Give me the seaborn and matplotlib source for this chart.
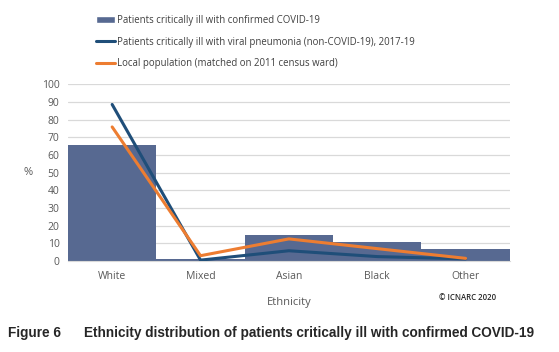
import pandas as pd
import matplotlib
matplotlib.use('Agg')
import matplotlib.pyplot as plt
import seaborn as sns
from matplotlib.patches import Patch
from matplotlib.lines import Line2D

# Data
ethnicity = ['White', 'Mixed', 'Asian', 'Black', 'Other']
covid = [65.5, 1.2, 14.8, 11.0, 6.7]
pneumonia = [88.5, 0.5, 5.8, 2.5, 1.2]
local_pop = [75.8, 3.0, 12.5, 7.0, 1.5]

bar_col = '#576991'
navy = '#1f4e79'
orange = '#ed7d31'
grey = '#595959'

sns.set_style('white')
plt.rcParams['font.family'] = ['Open Sans', 'DejaVu Sans']

df = pd.DataFrame({'Ethnicity': ethnicity, 'covid': covid,
                   'pneumonia': pneumonia, 'local': local_pop})
df['pos'] = range(len(df))

fig = plt.figure(figsize=(5.59, 3.52), dpi=100)
ax = fig.add_axes([0.1216, 0.2585, 0.7904, 0.5025])

sns.barplot(data=df, x='Ethnicity', y='covid', color=bar_col, width=1.0,
            saturation=1, linewidth=0, ax=ax, zorder=2)
sns.lineplot(data=df, x='pos', y='pneumonia', color=navy, lw=2.2, ax=ax,
             zorder=3)
sns.lineplot(data=df, x='pos', y='local', color=orange, lw=2.2, ax=ax,
             zorder=4)

ax.set_xlim(-0.5, 4.5)
ax.set_ylim(0, 100)
ax.set_yticks(range(0, 101, 10))
ax.yaxis.grid(True, color='#d9d9d9', lw=0.9, zorder=0)
ax.set_axisbelow(True)
for s in ['top', 'right', 'left']:
    ax.spines[s].set_visible(False)
ax.spines['bottom'].set_color('#d9d9d9')
ax.tick_params(axis='both', colors=grey, labelsize=7.5, length=0, pad=6)
ax.tick_params(axis='x', pad=7)
ax.set_xlabel('Ethnicity', color=grey, fontsize=8, labelpad=11)
ax.set_ylabel('%', color=grey, fontsize=8, rotation=0, labelpad=10, va='center')

handles = [Patch(facecolor=bar_col),
           Line2D([], [], color=navy, lw=2.2),
           Line2D([], [], color=orange, lw=2.2)]
labels = ['Patients critically ill with confirmed COVID-19',
          'Patients critically ill with viral pneumonia (non-COVID-19), 2017-19',
          'Local population (matched on 2011 census ward)']
leg = fig.legend(handles, labels, loc='upper left', bbox_to_anchor=(0.165, 0.968),
                 frameon=False, fontsize=6.9, labelcolor='#404040',
                 handlelength=2.0, handletextpad=0.2, labelspacing=1.1,
                 borderaxespad=0)

fig.text(439 / 559, 1 - 297 / 352, '\u00a9 ICNARC 2020', fontsize=5.6,
         color='#262626', ha='left', va='center', fontweight='semibold')
fig.text(8 / 559, 1 - 333 / 352, 'Figure 6', fontsize=9.8, fontweight='bold',
         family='Liberation Sans', ha='left', va='center')
fig.text(84 / 559, 1 - 333 / 352,
         'Ethnicity distribution of patients critically ill with confirmed COVID-19',
         fontsize=9.8, fontweight='bold', family='Liberation Sans',
         ha='left', va='center')

fig.savefig('out.png', dpi=100)
